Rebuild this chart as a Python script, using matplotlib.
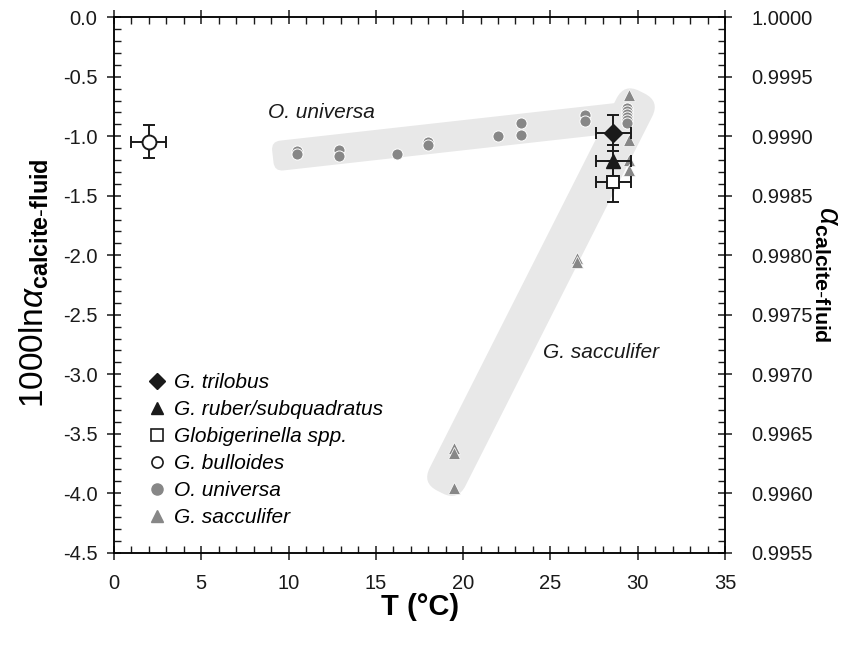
import numpy as np
import matplotlib
matplotlib.use('Agg')
import matplotlib.pyplot as plt
import matplotlib.transforms as mtransforms
from matplotlib.patches import FancyBboxPatch
from matplotlib.lines import Line2D
from matplotlib.ticker import MultipleLocator, FormatStrFormatter

plt.rcParams['font.family'] = ['Liberation Sans', 'DejaVu Sans']
plt.rcParams['axes.unicode_minus'] = False
plt.rcParams['mathtext.fontset'] = 'custom'
plt.rcParams['mathtext.rm'] = 'Liberation Sans'
plt.rcParams['mathtext.it'] = 'Liberation Sans:italic'
plt.rcParams['mathtext.bf'] = 'Liberation Sans:bold'

# --- data ---
universa_T = [10.5, 10.5, 12.9, 12.9, 16.2, 18.0, 18.0, 22.0, 23.3, 23.3,
              27.0, 27.0, 29.4, 29.4, 29.4, 29.4, 29.4, 29.4]
universa_y = [-1.12, -1.145, -1.115, -1.165, -1.145, -1.05, -1.075, -0.995, -0.89, -0.985,
              -0.82, -0.875, -0.765, -0.79, -0.815, -0.84, -0.865, -0.89]

sacculifer_T = [19.5, 19.5, 19.5, 26.5, 26.5, 29.5, 29.5, 29.5, 29.5]
sacculifer_y = [-3.62, -3.66, -3.96, -2.02, -2.06, -0.655, -1.035, -1.2, -1.285]

# single samples with error bars: T, y, T err, y err
trilobus = [28.6, -0.97, 1.0, 0.15]
ruber = [28.6, -1.205, 1.0, 0.13]
globigerinella = [28.6, -1.38, 1.0, 0.17]
bulloides = [2.0, -1.045, 1.0, 0.14]

# shaded trends (start, end in T / 1000ln alpha)
band_universa = [(9.1, -1.17), (30.4, -0.82)]
band_sacculifer = [(18.67, -3.99), (30.25, -0.63)]

legend_labels = ['G. trilobus', 'G. ruber/subquadratus', 'Globigerinella spp.',
                 'G. bulloides', 'O. universa', 'G. sacculifer']

grey = '#878787'
fig = plt.figure(figsize=(8.43, 6.46), dpi=100)
ax = fig.add_axes([0.1352, 0.1444, 0.7248, 0.8288])
ax.set_xlim(0, 35)
ax.set_ylim(-4.5, 0)


def band(p0, p1, width_px, radius_px):
    (x0, y0), (x1, y1) = ax.transData.transform([p0, p1])
    L = np.hypot(x1 - x0, y1 - y0)
    ang = np.arctan2(y1 - y0, x1 - x0)
    patch = FancyBboxPatch((0, -width_px / 2), L, width_px,
                           boxstyle='round,pad=0,rounding_size=%g' % radius_px,
                           transform=mtransforms.Affine2D().rotate(ang).translate(x0, y0),
                           fc='#e8e8e8', ec='none', zorder=0)
    ax.add_patch(patch)


band(band_universa[0], band_universa[1], 30, 9)
band(band_sacculifer[0], band_sacculifer[1], 40, 17)

ax.plot(universa_T, universa_y, 'o', color=grey, mec='white', mew=0.7, ms=8, zorder=3)
ax.plot(sacculifer_T, sacculifer_y, '^', color=grey, mec='white', mew=0.5, ms=8, zorder=3)

ekw = dict(ecolor='#1a1a1a', elinewidth=1.4, capsize=4, capthick=1.4, zorder=4)
ax.errorbar(trilobus[0], trilobus[1], xerr=trilobus[2], yerr=trilobus[3],
            fmt='D', color='#1a1a1a', ms=9, **ekw)
ax.errorbar(ruber[0], ruber[1], xerr=ruber[2], yerr=ruber[3],
            fmt='^', color='#1a1a1a', ms=10, **ekw)
ax.errorbar(globigerinella[0], globigerinella[1], xerr=globigerinella[2], yerr=globigerinella[3],
            fmt='s', mfc='white', mec='#1a1a1a', mew=1.4, ms=9, **ekw)
ax.errorbar(bulloides[0], bulloides[1], xerr=bulloides[2], yerr=bulloides[3],
            fmt='o', mfc='white', mec='#1a1a1a', mew=1.4, ms=10, **ekw)

ax.text(8.8, -0.80, 'O. universa', style='italic', fontsize=15, va='center', color='#1a1a1a')
ax.text(24.6, -2.82, 'G. sacculifer', style='italic', fontsize=15, va='center', color='#1a1a1a')

handles = [Line2D([], [], ls='none', marker='D', color='#1a1a1a', ms=8),
           Line2D([], [], ls='none', marker='^', color='#1a1a1a', ms=9),
           Line2D([], [], ls='none', marker='s', mfc='white', mec='#1a1a1a', mew=1.2, ms=8),
           Line2D([], [], ls='none', marker='o', mfc='white', mec='#1a1a1a', mew=1.2, ms=8),
           Line2D([], [], ls='none', marker='o', color=grey, ms=8),
           Line2D([], [], ls='none', marker='^', color=grey, ms=8)]
leg = ax.legend(handles, legend_labels, loc='upper left', bbox_to_anchor=(0.054, 0.336),
                frameon=False, handlelength=1.0, handletextpad=0.3, borderpad=0,
                borderaxespad=0, labelspacing=0.39, prop={'style': 'italic', 'size': 15})

# axes styling
for s in ax.spines.values():
    s.set_linewidth(1.1)
    s.set_color('#1a1a1a')
ax.xaxis.set_major_locator(MultipleLocator(5))
ax.xaxis.set_minor_locator(MultipleLocator(1))
ax.yaxis.set_major_locator(MultipleLocator(0.5))
ax.yaxis.set_minor_locator(MultipleLocator(0.1))
ax.yaxis.set_major_formatter(FormatStrFormatter('%.1f'))
ax.tick_params(which='major', direction='inout', length=10, width=1.1, top=True,
               labelsize=14.5, colors='#1a1a1a')
ax.tick_params(which='minor', direction='in', length=5, width=1.0, top=True, colors='#1a1a1a')
ax.tick_params(axis='y', which='major', pad=7)
ax.tick_params(axis='x', which='major', pad=10)

ax2 = ax.twinx()
ax2.set_ylim(0.9955, 1.0)
ax2.yaxis.set_major_locator(MultipleLocator(0.0005))
ax2.yaxis.set_minor_locator(MultipleLocator(0.0001))
ax2.yaxis.set_major_formatter(FormatStrFormatter('%.4f'))
ax2.tick_params(which='major', direction='inout', length=10, width=1.1, labelsize=14.5,
                pad=14, colors='#1a1a1a')
ax2.tick_params(which='minor', direction='in', length=5, width=1.0, colors='#1a1a1a')
for s in ax2.spines.values():
    s.set_linewidth(1.1)

fig.text(0.498, 0.06, 'T (°C)', ha='center', va='center', fontsize=21, fontweight='bold')
fig.text(0.041, 0.562, r'1000ln$\alpha_{\mathbf{calcite\text{-}fluid}}$', rotation=90,
         ha='center', va='center', fontsize=24)
fig.text(0.981, 0.576, r'$\alpha_{\mathbf{calcite\text{-}fluid}}$', rotation=270,
         ha='center', va='center', fontsize=22)

fig.savefig('out.png', dpi=100)
